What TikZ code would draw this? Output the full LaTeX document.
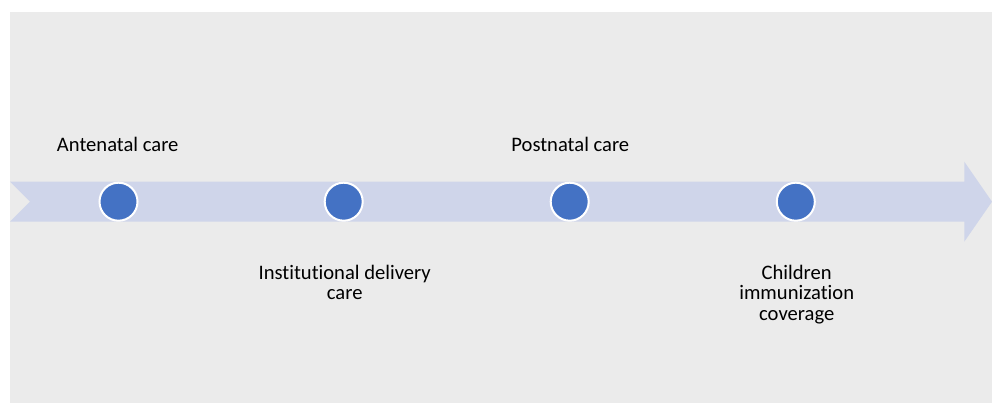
\documentclass[tikz,border=0pt]{standalone}
\usepackage{fontspec}
\setmainfont{Carlito}[Ligatures=NoCommon]
\definecolor{bgray}{HTML}{EBEBEB}
\definecolor{arrowblue}{HTML}{CFD5EA}
\definecolor{dotblue}{HTML}{4472C4}

\begin{document}
\begin{tikzpicture}[x=1pt,y=-1pt,
    stage/.style ={circle, draw=white, fill=dotblue, line width=2pt, inner sep = 0pt, minimum size=38pt},
    caption/.style ={inner sep=0pt, align=center, font=\fontsize{20.6}{20.5}\selectfont}]
   \useasboundingbox (0,0) rectangle (992,403);
   \fill[bgray] (10,12) rectangle (992,402.5);
   % timeline arrow
   \fill[arrowblue] (10,181.7) -- (964.3,181.7) -- (964.3,161.7) -- (992,201.7)
      -- (964.3,241.7) -- (964.3,221.7) -- (10,221.7) -- (30,201.7) -- cycle;
   \node[stage] (c1) at (118.5,201.7) {};
   \node[stage] (c2) at (343.7,201.7) {};
   \node[stage] (c3) at (569.7,201.7) {};
   \node[stage] (c4) at (795.8,201.7) {};
   \node[caption, anchor=base] (t1) at (117.7,151.7) {Antenatal care};
   \node[caption, anchor=north] (t2) at (344.7,264.5) {Institutional delivery\\care};
   \node[caption, anchor=base] (t3) at (570.3,151.7) {Postnatal care};
   \node[caption, anchor=north] (t4) at (796.7,264.5) {Children\\immunization\\coverage};
 \end{tikzpicture}
\end{document}
